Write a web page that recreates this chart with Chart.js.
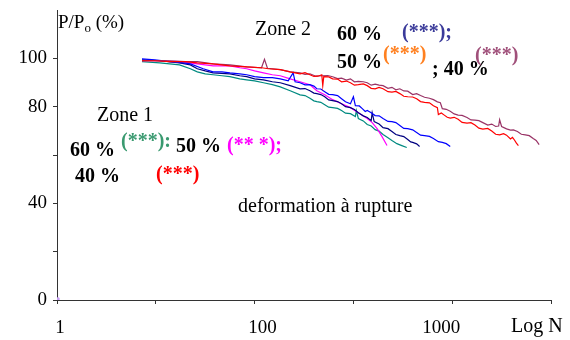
<!DOCTYPE html>
<html>
<head>
<meta charset="utf-8">
<script src="https://cdn.jsdelivr.net/npm/chart.js@4.4.1/dist/chart.umd.min.js"></script>
<style>
  html, body { margin: 0; padding: 0; background: #fff; }
  #wrap { width: 570px; height: 340px; }
</style>
</head>
<body>
<div id="wrap"><canvas id="chart" width="570" height="340"></canvas></div>
<script>
// x is the position along the Log N axis (one step = one tick), y is P/Po in %
const zone2_40 = [
  [0.86, 99.0], [0.99, 99.0], [1.14, 98.6], [1.30, 98.6], [1.42, 98.1], [1.58, 97.7],
  [1.75, 96.9], [1.92, 96.5], [2.07, 96.1], [2.14, 95.7], [2.26, 95.3], [2.36, 94.4],
  [2.46, 93.6], [2.51, 94.1], [2.56, 93.2], [2.60, 92.5], [2.64, 92.6], [2.68, 93.2],
  [2.69, 88.7], [2.70, 92.4], [2.75, 92.3], [2.79, 91.5], [2.84, 91.4], [2.88, 90.3],
  [2.93, 90.6], [2.97, 89.9], [3.01, 88.9], [3.05, 89.1], [3.10, 89.4], [3.14, 88.7],
  [3.18, 87.6], [3.22, 87.4], [3.26, 88.0], [3.30, 87.4], [3.35, 86.2], [3.39, 86.0],
  [3.43, 86.3], [3.47, 85.4], [3.51, 84.3], [3.55, 84.1], [3.60, 84.0], [3.64, 83.3],
  [3.68, 82.1], [3.72, 81.8], [3.77, 81.6], [3.81, 80.4], [3.85, 79.6], [3.86, 76.7],
  [3.89, 77.4], [3.92, 76.5], [3.95, 75.6], [3.98, 75.3], [4.02, 75.6], [4.06, 74.8],
  [4.10, 73.5], [4.15, 73.2], [4.19, 73.4], [4.23, 72.4], [4.27, 71.1], [4.31, 70.7],
  [4.36, 71.0], [4.40, 69.9], [4.44, 68.6], [4.48, 68.3], [4.52, 68.8], [4.55, 68.2],
  [4.59, 66.6], [4.61, 67.3], [4.63, 66.2], [4.65, 64.9], [4.67, 63.9]
];
const zone2_50 = [
  [0.86, 99.0], [0.99, 99.0], [1.14, 99.0], [1.30, 98.6], [1.42, 98.6], [1.58, 97.7],
  [1.75, 97.3], [1.92, 96.5], [2.07, 96.1], [2.10, 99.6], [2.13, 95.9], [2.26, 95.3],
  [2.36, 94.4], [2.46, 94.0], [2.51, 93.4], [2.56, 93.6], [2.62, 92.6], [2.68, 92.8],
  [2.74, 92.9], [2.79, 92.4], [2.84, 91.6], [2.88, 91.8], [2.93, 91.0], [2.97, 91.5],
  [3.01, 90.3], [3.05, 90.5], [3.10, 90.3], [3.14, 89.9], [3.18, 88.9], [3.22, 89.3],
  [3.26, 88.9], [3.30, 88.7], [3.35, 87.6], [3.39, 88.0], [3.43, 87.0], [3.47, 87.4],
  [3.51, 86.5], [3.55, 86.4], [3.60, 85.0], [3.64, 85.4], [3.68, 84.6], [3.72, 83.9],
  [3.77, 83.5], [3.81, 82.9], [3.85, 82.0], [3.88, 81.6], [3.90, 79.2], [3.94, 78.9],
  [3.98, 78.1], [4.02, 77.0], [4.06, 76.5], [4.10, 76.4], [4.15, 75.5], [4.19, 74.5],
  [4.23, 74.4], [4.27, 74.2], [4.31, 73.4], [4.36, 72.4], [4.40, 72.8], [4.44, 71.8],
  [4.47, 72.0], [4.48, 74.6], [4.50, 71.8], [4.55, 70.8], [4.59, 70.3], [4.62, 70.4],
  [4.66, 69.7], [4.70, 68.6], [4.74, 68.3], [4.78, 68.0], [4.82, 66.8], [4.85, 66.0],
  [4.88, 64.3]
];
const zone2_60 = [
  [0.86, 99.8], [0.99, 99.4], [1.14, 98.6], [1.28, 98.1], [1.35, 97.7], [1.48, 95.7],
  [1.58, 94.4], [1.67, 94.4], [1.75, 94.0], [1.85, 93.6], [1.92, 93.2], [2.00, 92.4],
  [2.09, 92.0], [2.18, 92.0], [2.26, 91.5], [2.34, 90.7], [2.39, 94.0], [2.41, 90.3],
  [2.46, 89.9], [2.51, 89.0], [2.56, 89.1], [2.60, 88.5], [2.63, 87.4], [2.67, 87.3],
  [2.71, 86.2], [2.75, 85.1], [2.79, 85.0], [2.84, 84.6], [2.88, 83.3], [2.92, 82.0],
  [2.97, 81.2], [3.00, 84.1], [3.02, 80.4], [3.06, 80.3], [3.09, 79.2], [3.12, 78.0],
  [3.14, 78.4], [3.18, 77.5], [3.22, 76.3], [3.26, 76.2], [3.30, 75.1], [3.35, 73.9],
  [3.39, 73.8], [3.43, 73.4], [3.47, 72.2], [3.51, 71.0], [3.55, 70.9], [3.60, 70.4],
  [3.64, 69.3], [3.68, 68.2], [3.72, 68.0], [3.77, 67.7], [3.81, 66.8], [3.86, 65.5],
  [3.90, 65.2], [3.94, 64.7], [3.98, 63.5]
];
const zone1_60 = [
  [0.86, 99.4], [1.04, 99.0], [1.24, 98.1], [1.35, 97.3], [1.42, 95.7], [1.50, 94.8],
  [1.58, 94.0], [1.75, 93.6], [1.85, 92.8], [1.92, 92.4], [2.00, 91.5], [2.09, 91.1],
  [2.18, 90.3], [2.26, 89.9], [2.36, 88.7], [2.46, 87.4], [2.51, 87.5], [2.56, 86.6],
  [2.60, 85.6], [2.63, 85.4], [2.67, 85.0], [2.71, 84.1], [2.75, 82.8], [2.79, 82.5],
  [2.84, 82.1], [2.88, 81.2], [2.92, 80.0], [2.97, 79.6], [3.01, 78.8], [3.05, 77.5],
  [3.10, 76.2], [3.14, 75.5], [3.18, 74.2], [3.19, 77.5], [3.21, 73.8], [3.26, 72.8],
  [3.30, 71.3], [3.35, 70.9], [3.39, 69.7], [3.43, 68.5], [3.47, 68.0], [3.51, 67.6],
  [3.55, 66.4], [3.58, 65.4], [3.60, 65.2], [3.64, 64.6], [3.67, 63.5]
];
const zone1_50 = [
  [0.86, 99.0], [1.04, 99.0], [1.24, 98.6], [1.42, 97.7], [1.58, 96.9], [1.75, 96.9],
  [1.85, 96.1], [1.92, 95.7], [2.00, 94.8], [2.09, 94.0], [2.18, 93.2], [2.26, 92.8],
  [2.36, 91.5], [2.46, 90.3], [2.56, 89.1], [2.63, 86.6], [2.71, 84.9], [2.79, 82.9],
  [2.88, 81.2], [2.97, 79.6], [3.05, 77.5], [3.14, 75.1], [3.19, 73.4], [3.24, 70.9],
  [3.29, 67.6], [3.34, 63.9]
];
const zone1_40 = [
  [0.86, 98.6], [1.04, 98.1], [1.24, 97.3], [1.35, 95.7], [1.42, 94.4], [1.50, 93.6],
  [1.58, 93.2], [1.67, 92.8], [1.75, 92.4], [1.85, 91.5], [1.92, 91.1], [2.00, 90.7],
  [2.09, 89.9], [2.18, 89.1], [2.26, 88.2], [2.36, 86.6], [2.46, 84.9], [2.51, 84.6],
  [2.56, 83.5], [2.60, 82.4], [2.63, 82.1], [2.67, 81.8], [2.71, 80.8], [2.75, 79.8],
  [2.79, 79.6], [2.84, 79.3], [2.88, 78.4], [2.92, 77.3], [2.97, 77.1], [3.02, 75.9],
  [3.03, 78.4], [3.05, 75.1], [3.10, 74.1], [3.14, 72.6], [3.18, 72.0], [3.22, 70.5],
  [3.26, 69.9], [3.30, 68.5], [3.35, 67.1], [3.39, 66.0], [3.44, 64.7], [3.49, 63.9],
  [3.54, 63.1]
];
const originPoint = [[0, 0]];

const seriesNames = ['Zone 2 40 %', 'Zone 2 50 %', 'Zone 2 60 %', 'Zone 1 60 %', 'Zone 1 50 %', 'Zone 1 40 %'];
const seriesData = [zone2_40, zone2_50, zone2_60, zone1_60, zone1_50, zone1_40];
const seriesColors = ['#ff0000', '#993366', '#0000ff', '#000080', '#ff00ff', '#008a80'];

const yTickShown = [0, 40, 80, 100];
const xTickPos = [0.03, 2.08, 3.89];
const xTickText = ['1', '100', '1000'];

const serif = '"Liberation Serif", "Times New Roman", serif';

// texts written on the plot
const notes = [
  { text: 'Zone 2', x: 255, y: 35, bold: false, color: '#000' },
  { text: '60 %', x: 337, y: 40, bold: true, color: '#000' },
  { text: '(***);', x: 402, y: 38, bold: true, color: '#3b3b9a' },
  { text: '50 %', x: 337, y: 68, bold: true, color: '#000' },
  { text: '(***)', x: 383, y: 60, bold: true, color: '#ff8020' },
  { text: '; 40 %', x: 432, y: 75, bold: true, color: '#000' },
  { text: '(***)', x: 475, y: 61, bold: true, color: '#a0507a' },
  { text: 'Zone 1', x: 97, y: 121, bold: false, color: '#000' },
  { text: '60 %', x: 70, y: 156, bold: true, color: '#000' },
  { text: '(***):', x: 121, y: 147, bold: true, color: '#3a9a70' },
  { text: '50 %', x: 176, y: 152, bold: true, color: '#000' },
  { text: '(** *);', x: 227, y: 151, bold: true, color: '#ff00ff' },
  { text: '40 %', x: 75, y: 182, bold: true, color: '#000' },
  { text: '(***)', x: 156, y: 180, bold: true, color: '#ff0000' },
  { text: 'deformation à rupture', x: 238, y: 212, bold: false, color: '#000' },
  { text: 'Log N', x: 511, y: 332, bold: false, color: '#000' }
];

const notesPlugin = {
  id: 'notes',
  afterDraw(chart) {
    const ctx = chart.ctx;
    ctx.save();
    ctx.textBaseline = 'alphabetic';
    notes.forEach(n => {
      ctx.font = (n.bold ? 'bold ' : '') + '20px ' + serif;
      ctx.fillStyle = n.color;
      ctx.fillText(n.text, n.x, n.y);
    });
    // y axis title P/Po (%)
    ctx.fillStyle = '#000';
    ctx.font = '19px ' + serif;
    ctx.fillText('P/P', 58, 28);
    let w = ctx.measureText('P/P').width;
    ctx.font = '13px ' + serif;
    ctx.fillText('o', 58 + w, 32);
    w += ctx.measureText('o').width;
    ctx.font = '19px ' + serif;
    ctx.fillText(' (%)', 58 + w, 28);
    ctx.restore();
  }
};

const datasets = seriesData.map((d, i) => ({
  label: seriesNames[i],
  data: d.map(p => ({ x: p[0], y: p[1] })),
  borderColor: seriesColors[i],
  borderWidth: 1.2,
  pointRadius: 0,
  showLine: true,
  tension: 0,
  xAxisID: 'x',
  yAxisID: 'y'
}));
datasets.push({
  label: 'origin',
  data: originPoint.map(p => ({ x: p[0], y: p[1] })),
  backgroundColor: '#c9a2f3',
  borderColor: '#c9a2f3',
  pointStyle: 'rect',
  pointRadius: 3,
  showLine: false,
  xAxisID: 'x',
  yAxisID: 'y'
});

new Chart(document.getElementById('chart'), {
  type: 'scatter',
  data: { datasets: datasets },
  options: {
    responsive: false,
    animation: false,
    layout: { padding: { top: 10, right: 19, left: 0, bottom: 0 } },
    plugins: {
      legend: { display: false },
      tooltip: { enabled: false }
    },
    scales: {
      x: {
        type: 'linear',
        position: 'bottom',
        weight: 0,
        min: 0,
        max: 5,
        border: { color: '#333', width: 1 },
        grid: { drawOnChartArea: false, drawTicks: true, tickLength: 4, tickColor: '#333' },
        ticks: { display: false, stepSize: 1 },
        afterFit: scale => { scale.height = 4; scale.paddingLeft = 0; scale.paddingRight = 0; }
      },
      xLabels: {
        type: 'linear',
        axis: 'x',
        position: 'bottom',
        weight: 1,
        min: 0,
        max: 5,
        border: { display: false },
        grid: { display: false },
        afterBuildTicks: scale => { scale.ticks = xTickPos.map(v => ({ value: v })); },
        ticks: {
          autoSkip: false,
          maxRotation: 0,
          padding: 5,
          color: '#000',
          font: { family: serif, size: 19 },
          callback: (v, i) => xTickText[i]
        },
        afterFit: scale => { scale.height = 36; scale.paddingLeft = 0; scale.paddingRight = 0; }
      },
      y: {
        min: 0,
        max: 120,
        border: { color: '#333', width: 1 },
        grid: {
          drawOnChartArea: false,
          drawTicks: true,
          tickLength: 4,
          tickColor: c => (c.tick && c.tick.value === 120 ? 'rgba(0,0,0,0)' : '#333')
        },
        ticks: {
          stepSize: 20,
          padding: 6,
          color: '#000',
          font: { family: serif, size: 19 },
          callback: v => (yTickShown.includes(v) ? v : '')
        },
        afterFit: scale => { scale.width = 57; scale.paddingTop = 0; scale.paddingBottom = 0; }
      }
    }
  },
  plugins: [notesPlugin]
});
</script>
</body>
</html>
